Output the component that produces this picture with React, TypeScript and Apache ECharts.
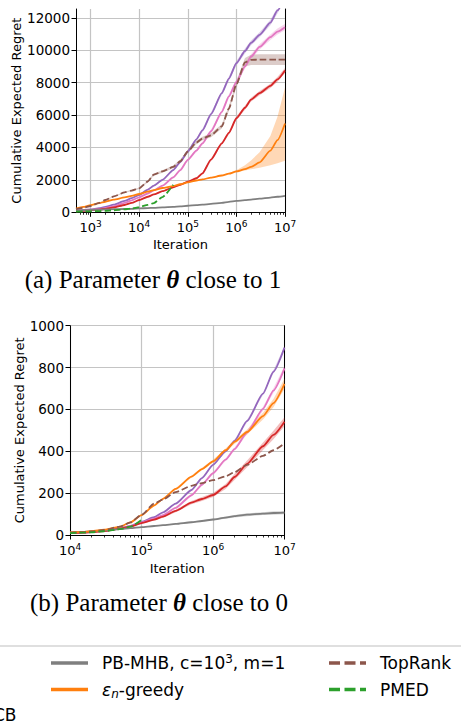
import React, { useEffect, useRef } from "react";
import * as echarts from "echarts";

const FONT = "DejaVu Sans";
const SERIF = "Liberation Serif";

const C_PURPLE = "#9467bd";
const C_PINK = "#e377c2";
const C_RED = "#d62728";
const C_GRAY = "#7f7f7f";
const C_ORANGE = "#ff7f0e";
const C_BROWN = "#8c564b";
const C_GREEN = "#2ca02c";

// ---------- Panel (a): parameter theta close to 1 ----------
const ITER_A = [500, 700, 1e3, 1.5e3, 2e3, 3e3, 5e3, 7e3, 1e4, 1.5e4, 2e4, 3e4, 5e4, 7e4, 1e5, 1.5e5, 2e5, 3e5, 5e5, 7e5, 1e6, 1.5e6, 2e6, 3e6, 5e6, 7e6, 1e7];
const A_PURPLE = [100, 140, 185, 250, 330, 470, 700, 870, 1070, 1400, 1650, 2000, 2600, 3100, 3750, 4500, 5050, 6050, 7350, 8250, 9200, 9950, 10450, 10950, 11700, 12450, 13300];
const A_PURPLE_HALF = [5, 5, 8, 10, 12, 15, 20, 25, 30, 35, 40, 50, 60, 70, 80, 90, 100, 110, 120, 130, 140, 150, 150, 160, 170, 180, 190];
const A_PINK = [80, 110, 145, 200, 260, 370, 580, 740, 925, 1160, 1350, 1640, 2150, 2600, 3230, 3800, 4250, 5000, 6200, 7150, 8050, 9000, 9600, 10200, 10800, 11150, 11420];
const A_PINK_HALF = [5, 5, 8, 10, 12, 15, 20, 25, 30, 35, 40, 50, 60, 70, 80, 90, 100, 110, 120, 130, 140, 150, 150, 160, 170, 180, 190];
const A_RED = [60, 85, 125, 165, 210, 300, 450, 580, 760, 960, 1100, 1300, 1540, 1700, 1890, 2100, 2400, 3250, 4250, 4900, 5800, 6450, 6950, 7350, 7800, 8200, 8750];
const A_RED_HALF = [5, 5, 6, 8, 10, 12, 15, 18, 20, 25, 30, 35, 40, 45, 50, 60, 70, 80, 90, 100, 110, 120, 120, 130, 130, 140, 150];
const A_GRAY = [110, 125, 150, 165, 175, 190, 205, 215, 240, 260, 275, 300, 335, 365, 405, 440, 470, 520, 580, 640, 700, 745, 780, 840, 910, 960, 1020];
const A_ORANGE = [220, 330, 440, 560, 650, 780, 920, 1010, 1130, 1270, 1370, 1500, 1620, 1730, 1850, 1960, 2030, 2140, 2270, 2380, 2520, 2660, 2800, 3080, 3800, 4450, 5480];
const A_ORANGE_LO = [210, 320, 430, 550, 640, 770, 905, 995, 1115, 1255, 1355, 1485, 1605, 1715, 1835, 1945, 2015, 2125, 2250, 2355, 2470, 2580, 2650, 2750, 2900, 3030, 3180];
const A_ORANGE_HI = [230, 340, 450, 570, 660, 790, 935, 1025, 1145, 1285, 1385, 1515, 1635, 1745, 1865, 1975, 2045, 2160, 2300, 2420, 2600, 2900, 3200, 3700, 4700, 5900, 7700];
const A_BROWN = [190, 280, 390, 580, 760, 980, 1230, 1340, 1480, 1900, 2330, 2520, 2800, 3150, 3750, 4300, 4550, 4750, 5300, 6400, 7900, 9250, 9400, 9420, 9420, 9420, 9420];
const A_BROWN_HALF = [10, 12, 15, 20, 25, 30, 40, 45, 50, 60, 70, 80, 90, 100, 110, 110, 110, 120, 130, 150, 180, 260, 320, 330, 330, 330, 330];
const ITER_A_PMED = [500, 700, 1e3, 1.5e3, 2e3, 3e3, 5e3, 7e3, 1e4, 1.5e4, 2e4, 3e4, 5e4];
const A_GREEN = [40, 50, 60, 75, 90, 120, 180, 240, 320, 460, 570, 940, 1700];

const TICKS_A_X = [1e3, 1e4, 1e5, 1e6, 1e7];
const MINOR_A_X = [600, 700, 800, 900, 2e3, 3e3, 4e3, 5e3, 6e3, 7e3, 8e3, 9e3, 2e4, 3e4, 4e4, 5e4, 6e4, 7e4, 8e4, 9e4, 2e5, 3e5, 4e5, 5e5, 6e5, 7e5, 8e5, 9e5, 2e6, 3e6, 4e6, 5e6, 6e6, 7e6, 8e6, 9e6];
const TICKS_A_Y = [0, 2000, 4000, 6000, 8000, 10000, 12000];

// ---------- Panel (b): parameter theta close to 0 ----------
const ITER_B = [1e4, 1.5e4, 2e4, 3e4, 5e4, 7e4, 1e5, 1.5e5, 2e5, 3e5, 5e5, 7e5, 1e6, 1.5e6, 2e6, 3e6, 5e6, 7e6, 1e7];
const B_PURPLE = [10, 12, 14, 20, 32, 44, 63, 85, 108, 150, 215, 272, 335, 400, 450, 545, 675, 780, 895];
const B_PURPLE_HALF = [1, 1, 1, 1, 1, 1, 2, 2, 2, 3, 3, 4, 4, 5, 5, 6, 6, 7, 8];
const B_PINK = [10, 12, 14, 20, 31, 42, 60, 78, 95, 130, 190, 240, 295, 360, 410, 490, 603, 690, 796];
const B_PINK_HALF = [1, 1, 1, 1, 1, 2, 2, 3, 3, 4, 5, 6, 6, 7, 8, 9, 10, 11, 12];
const B_RED = [10, 12, 14, 19, 30, 40, 57, 73, 88, 115, 155, 172, 191, 232, 277, 340, 424, 478, 541];
const B_RED_HALF = [1, 1, 1, 1, 2, 2, 3, 4, 5, 6, 8, 9, 10, 12, 14, 16, 18, 20, 22];
const B_GRAY = [12, 15, 18, 22, 28, 33, 38, 43, 47, 53, 61, 67, 74, 83, 90, 97, 102, 105, 107];
const B_GRAY_HALF = [1, 1, 1, 1, 1, 1, 2, 2, 2, 3, 3, 4, 4, 5, 6, 7, 7, 8, 8];
const B_ORANGE = [12, 15, 18, 25, 40, 60, 95, 141, 173, 220, 279, 315, 352, 405, 445, 492, 568, 630, 722];
const B_ORANGE_HALF = [1, 1, 1, 1, 2, 2, 3, 3, 4, 5, 5, 6, 7, 8, 10, 12, 16, 20, 24];
const B_BROWN = [11, 14, 17, 24, 40, 60, 96, 150, 170, 205, 235, 248, 262, 280, 300, 335, 378, 405, 438];
const ITER_B_PMED = [1e4, 1.5e4, 2e4, 3e4, 5e4, 7e4, 1e5];
const B_GREEN = [9, 11, 13, 18, 28, 40, 72];

const TICKS_B_X = [1e4, 1e5, 1e6, 1e7];
const MINOR_B_X = [2e4, 3e4, 4e4, 5e4, 6e4, 7e4, 8e4, 9e4, 2e5, 3e5, 4e5, 5e5, 6e5, 7e5, 8e5, 9e5, 2e6, 3e6, 4e6, 5e6, 6e6, 7e6, 8e6, 9e6];
const TICKS_B_Y = [0, 200, 400, 600, 800, 1000];

const Y_NAME = "Cumulative Expected Regret";
const X_NAME = "Iteration";

const tickRich = {
  b: { fontFamily: FONT, fontSize: 13, color: "#000", lineHeight: 16 },
  s: { fontFamily: FONT, fontSize: 9, color: "#000", lineHeight: 7, verticalAlign: "top" },
};

function powLabel(v: number) {
  const e = Math.round(Math.log10(v));
  return `{b|10}{s|${e}}`;
}

function panel(g: number, grid: any, xMin: number, xMax: number, yMax: number, yInterval: number,
  xTicks: number[], xMinor: number[], yTicks: number[], yNameGap: number, xNameGap: number, xLabelMargin: number) {
  const base = { type: "log", logBase: 10, gridIndex: g, min: xMin, max: xMax };
  const xAxes = [
    {
      ...base, position: "bottom",
      axisLine: { show: true, onZero: false, lineStyle: { color: "#000", width: 1 } },
      axisTick: { show: true, length: 4.5, lineStyle: { color: "#000", width: 1 }, customValues: xTicks },
      axisLabel: { show: true, customValues: xTicks, formatter: powLabel, rich: tickRich, margin: xLabelMargin },
      splitLine: { show: true, lineStyle: { color: "#c4c4c4", width: 1.2 } },
      name: X_NAME, nameLocation: "middle", nameGap: xNameGap,
      nameTextStyle: { fontFamily: FONT, fontSize: 13, color: "#000" },
    },
    {
      ...base, position: "bottom",
      axisLine: { show: false },
      axisTick: { show: true, length: 2.5, lineStyle: { color: "#000", width: 0.8 }, customValues: xMinor },
      axisLabel: { show: false },
      splitLine: { show: false },
    },
    {
      ...base, position: "top",
      axisLine: { show: true, lineStyle: { color: "#000", width: 1 } },
      axisTick: { show: false }, axisLabel: { show: false }, splitLine: { show: false },
    },
  ];
  const yAxes = [
    {
      type: "value", gridIndex: g, min: 0, max: yMax, interval: yInterval, position: "left",
      axisLine: { show: true, onZero: false, lineStyle: { color: "#000", width: 1 } },
      axisTick: { show: true, length: 4.5, lineStyle: { color: "#000", width: 1 }, customValues: yTicks },
      axisLabel: {
        show: true, customValues: yTicks, formatter: (v: number) => String(v),
        fontFamily: FONT, fontSize: 13.5, color: "#000", margin: 6,
      },
      splitLine: { show: true, lineStyle: { color: "#c4c4c4", width: 1.2 } },
      name: Y_NAME, nameLocation: "middle", nameRotate: 90, nameGap: yNameGap,
      nameTextStyle: { fontFamily: FONT, fontSize: 13, color: "#000" },
    },
    {
      type: "value", gridIndex: g, min: 0, max: yMax, position: "right",
      axisLine: { show: true, lineStyle: { color: "#000", width: 1 } },
      axisTick: { show: false }, axisLabel: { show: false }, splitLine: { show: false },
    },
  ];
  return { grid: { ...grid, containLabel: false }, xAxes, yAxes };
}

function line(g: number, xs: number[], ys: number[], color: string, dashed: boolean, z = 3) {
  return {
    type: "line", xAxisIndex: g * 3, yAxisIndex: g * 2,
    data: xs.map((x, i) => [x, ys[i]]),
    symbol: "none", showSymbol: false, smooth: 0.2, smoothMonotone: "x",
    lineStyle: { color, width: 1.8, type: dashed ? [6.5, 3] : "solid" },
    itemStyle: { color }, silent: true, z, clip: true,
  };
}

function band(g: number, xs: number[], lo: number[], hi: number[], color: string) {
  return {
    type: "custom", xAxisIndex: g * 3, yAxisIndex: g * 2, clip: true, silent: true, z: 1,
    data: xs.map((x, i) => [x, lo[i], hi[i]]),
    encode: { x: 0, y: [1, 2] },
    renderItem: (params: any, api: any) => {
      if (params.dataIndex !== 0) return null;
      const pts: number[][] = [];
      xs.forEach((x, i) => pts.push(api.coord([x, hi[i]])));
      for (let i = xs.length - 1; i >= 0; i--) pts.push(api.coord([xs[i], lo[i]]));
      return { type: "polygon", shape: { points: pts }, style: { fill: color, opacity: 0.3 } };
    },
  };
}

const lower = (m: number[], h: number[]) => m.map((v, i) => v - h[i]);
const upper = (m: number[], h: number[]) => m.map((v, i) => v + h[i]);

export default function App() {
  const ref = useRef<HTMLDivElement>(null);
  useEffect(() => {
    if (!ref.current) return;
    const chart = echarts.init(ref.current, undefined, { renderer: "svg" });
    const pA = panel(0, { left: 76, top: 9, width: 209, height: 203.3 }, 500, 1e7, 12540, 2000,
      TICKS_A_X, MINOR_A_X, TICKS_A_Y, 46, 26, 7);
    const pB = panel(1, { left: 70, top: 325.7, width: 214.5, height: 209.3 }, 1e4, 1e7, 1000, 200,
      TICKS_B_X, MINOR_B_X, TICKS_B_Y, 43, 27, 7);

    const series: any[] = [
      band(0, ITER_A, lower(A_PURPLE, A_PURPLE_HALF), upper(A_PURPLE, A_PURPLE_HALF), C_PURPLE),
      band(0, ITER_A, lower(A_PINK, A_PINK_HALF), upper(A_PINK, A_PINK_HALF), C_PINK),
      band(0, ITER_A, lower(A_RED, A_RED_HALF), upper(A_RED, A_RED_HALF), C_RED),
      band(0, ITER_A, A_ORANGE_LO, A_ORANGE_HI, C_ORANGE),
      band(0, ITER_A, lower(A_BROWN, A_BROWN_HALF), upper(A_BROWN, A_BROWN_HALF), C_BROWN),
      line(0, ITER_A, A_PURPLE, C_PURPLE, false),
      line(0, ITER_A, A_PINK, C_PINK, false),
      line(0, ITER_A, A_RED, C_RED, false),
      line(0, ITER_A, A_GRAY, C_GRAY, false),
      line(0, ITER_A, A_ORANGE, C_ORANGE, false),
      line(0, ITER_A, A_BROWN, C_BROWN, true, 4),
      line(0, ITER_A_PMED, A_GREEN, C_GREEN, true, 5),

      band(1, ITER_B, lower(B_PURPLE, B_PURPLE_HALF), upper(B_PURPLE, B_PURPLE_HALF), C_PURPLE),
      band(1, ITER_B, lower(B_PINK, B_PINK_HALF), upper(B_PINK, B_PINK_HALF), C_PINK),
      band(1, ITER_B, lower(B_RED, B_RED_HALF), upper(B_RED, B_RED_HALF), C_RED),
      band(1, ITER_B, lower(B_GRAY, B_GRAY_HALF), upper(B_GRAY, B_GRAY_HALF), C_GRAY),
      band(1, ITER_B, lower(B_ORANGE, B_ORANGE_HALF), upper(B_ORANGE, B_ORANGE_HALF), C_ORANGE),
      line(1, ITER_B, B_PURPLE, C_PURPLE, false),
      line(1, ITER_B, B_PINK, C_PINK, false),
      line(1, ITER_B, B_RED, C_RED, false),
      line(1, ITER_B, B_GRAY, C_GRAY, false),
      line(1, ITER_B, B_ORANGE, C_ORANGE, false),
      line(1, ITER_B, B_BROWN, C_BROWN, true, 4),
      line(1, ITER_B_PMED, B_GREEN, C_GREEN, true, 5),
    ];

    const capRich = {
      r: { fontFamily: SERIF, fontSize: 25, fill: "#000" },
      t: { fontFamily: SERIF, fontSize: 25, fill: "#000", fontWeight: "bold", fontStyle: "italic" },
    };
    const legRich = {
      t: { fontFamily: FONT, fontSize: 17, fill: "#000", lineHeight: 20 },
      s: { fontFamily: FONT, fontSize: 12, fill: "#000", lineHeight: 11, verticalAlign: "top" },
      e: { fontFamily: FONT, fontSize: 17, fill: "#000", fontStyle: "italic", lineHeight: 20 },
      n: { fontFamily: FONT, fontSize: 12, fill: "#000", fontStyle: "italic", lineHeight: 12, verticalAlign: "bottom" },
    };
    const legendItems = [
      { text: "{t|PB-MHB, c=10}{s|3}{t|, m=1}", color: C_GRAY, dashed: false, col: 0, row: 0 },
      { text: "{e|ε}{n|n}{t|-greedy}", color: C_ORANGE, dashed: false, col: 0, row: 1 },
      { text: "{t|TopRank}", color: C_BROWN, dashed: true, col: 1, row: 0 },
      { text: "{t|PMED}", color: C_GREEN, dashed: true, col: 1, row: 1 },
    ];
    const colX = [51, 329];
    const rowY = [663, 689.5];
    const graphic: any[] = [
      { type: "text", x: 153, y: 279, style: { text: "{r|(a) Parameter }{t|θ}{r| close to 1}", rich: capRich, align: "center", verticalAlign: "middle" } },
      { type: "text", x: 159, y: 602, style: { text: "{r|(b) Parameter }{t|θ}{r| close to 0}", rich: capRich, align: "center", verticalAlign: "middle" } },
      { type: "line", shape: { x1: 0, y1: 646, x2: 461, y2: 646 }, style: { stroke: "#d5d5d5", lineWidth: 1.3 } },
      { type: "text", x: 16.5, y: 715, style: { text: "CB", fontFamily: FONT, fontSize: 17, fill: "#000", align: "right", verticalAlign: "middle" } },
    ];
    legendItems.forEach((it) => {
      const x = colX[it.col];
      const y = rowY[it.row];
      graphic.push({ type: "line", shape: { x1: x, y1: y, x2: x + 37, y2: y }, style: { stroke: it.color, lineWidth: 3.3, lineDash: it.dashed ? [11, 4.5] : null } });
      graphic.push({ type: "text", x: x + 51, y: y, style: { text: it.text, rich: legRich, align: "left", verticalAlign: "middle" } });
    });

    chart.setOption({
      animation: false,
      backgroundColor: "#fff",
      textStyle: { fontFamily: FONT },
      grid: [pA.grid, pB.grid],
      xAxis: [...pA.xAxes, ...pB.xAxes],
      yAxis: [...pA.yAxes, ...pB.yAxes],
      series,
      graphic,
    });
    return () => chart.dispose();
  }, []);
  return <div ref={ref} style={{ position: "absolute", left: 0, top: 0, width: 461, height: 728 }} />;
}
